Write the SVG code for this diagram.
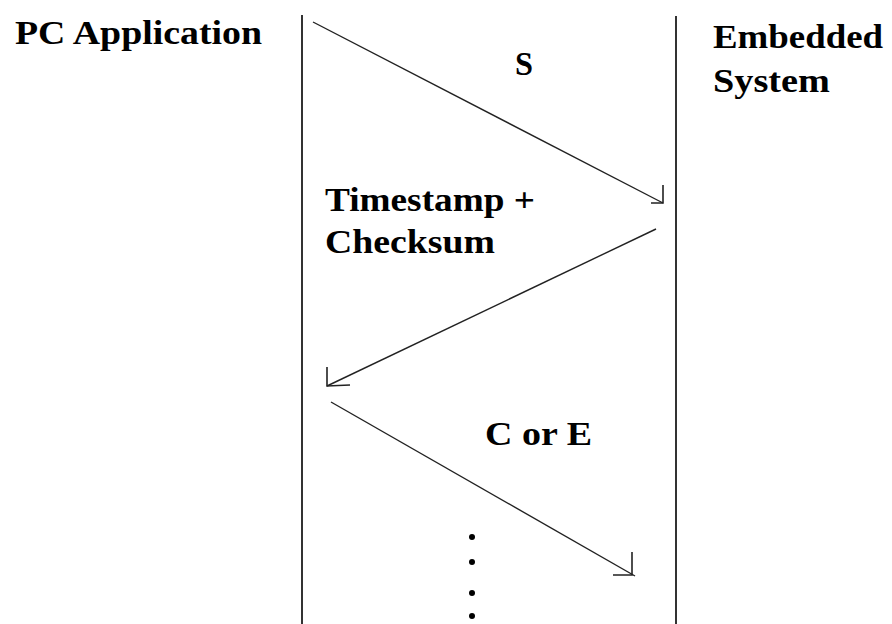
<svg xmlns="http://www.w3.org/2000/svg" width="892" height="624" viewBox="0 0 892 624">
<style>
.lbl{font-family:"Liberation Serif","Times New Roman",serif;font-weight:bold;font-size:33px;fill:#000}
.life{stroke:#333;stroke-width:2;fill:none}
.msg{stroke:#222;stroke-width:1.4;fill:none}
.head{stroke:#222;stroke-width:1.6;fill:none}
</style>
<rect width="892" height="624" fill="#fff"/>
<g id="pc-application">
<text class="lbl" x="15" y="44" textLength="247" lengthAdjust="spacingAndGlyphs">PC Application</text>
<line class="life" x1="302" y1="15" x2="302" y2="624"/>
</g>
<g id="embedded-system">
<text class="lbl" x="713" y="48" textLength="170" lengthAdjust="spacingAndGlyphs">Embedded</text>
<text class="lbl" x="713" y="92" textLength="117" lengthAdjust="spacingAndGlyphs">System</text>
<line class="life" x1="676" y1="16" x2="676" y2="624"/>
</g>
<g id="connectors">
<g id="msg-s">
<line class="msg" x1="313" y1="22" x2="663" y2="203"/>
<path class="head" d="M663,185 L663,203 L651,203"/>
<text class="lbl" x="515" y="75" textLength="18" lengthAdjust="spacingAndGlyphs">S</text>
</g>
<g id="msg-timestamp">
<line class="msg" x1="656" y1="229" x2="327" y2="386"/>
<path class="head" d="M327,367 L327,386 L350,385"/>
<text class="lbl" x="325" y="211" textLength="210" lengthAdjust="spacingAndGlyphs">Timestamp +</text>
<text class="lbl" x="325" y="253" textLength="170" lengthAdjust="spacingAndGlyphs">Checksum</text>
</g>
<g id="msg-c-or-e">
<line class="msg" x1="331" y1="402" x2="635" y2="576"/>
<path class="head" d="M632,552 L632,575 L613,575"/>
<text class="lbl" x="485" y="445" textLength="107" lengthAdjust="spacingAndGlyphs">C or E</text>
</g>
</g>
<g id="ellipsis" fill="#000">
<circle cx="472" cy="537" r="3"/>
<circle cx="472" cy="562" r="3"/>
<circle cx="472" cy="593" r="3"/>
<circle cx="472" cy="616" r="3"/>
</g>
</svg>
